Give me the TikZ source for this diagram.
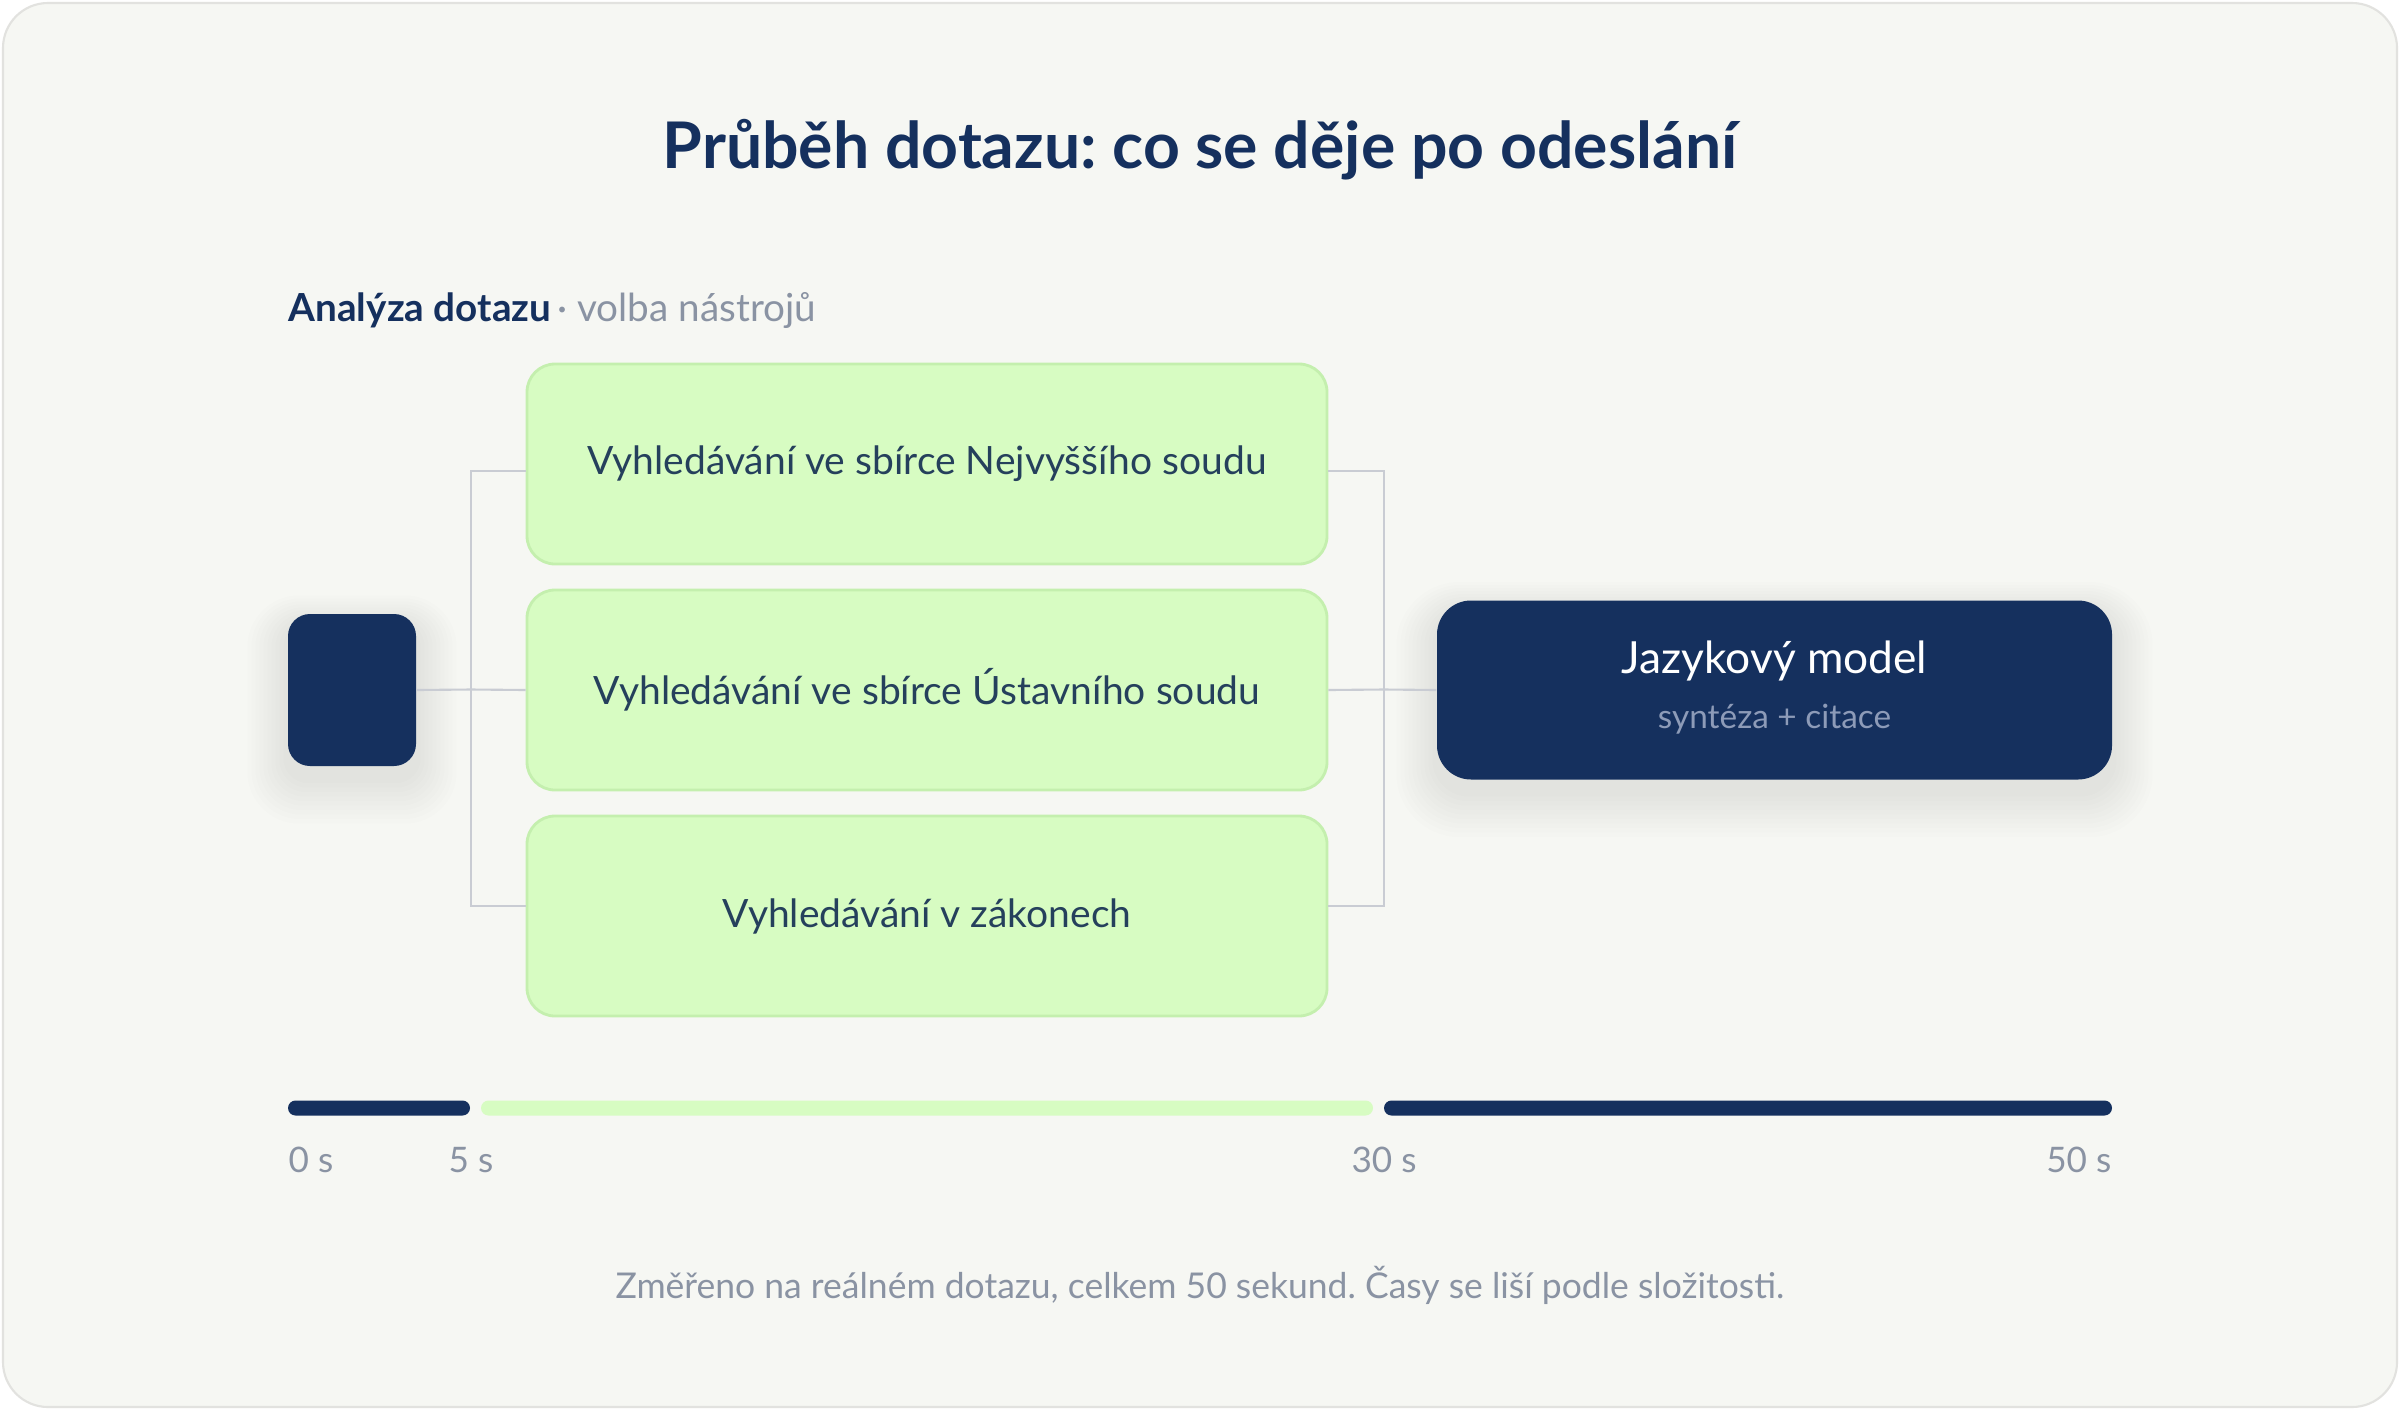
\documentclass[tikz,border=0pt]{standalone}
\usepackage{fontspec}
\setmainfont{Lato}
\usepackage{tikz}
\usetikzlibrary{calc}
\usetikzlibrary{positioning}
\definecolor{navy}{HTML}{15305E}
\definecolor{pagebg}{HTML}{F6F7F3}
\definecolor{framec}{HTML}{E2E2DF}
\definecolor{toolfill}{HTML}{D7FCC2}
\definecolor{toolline}{HTML}{C4EFAE}
\definecolor{tooltext}{HTML}{25405C}
\definecolor{graytext}{HTML}{8A93A3}
\definecolor{subtext}{HTML}{8D9BB8}
\definecolor{wirec}{HTML}{C9CCD3}
\pgfdeclarelayer{back}
\pgfdeclarelayer{shade}
\pgfsetlayers{back,shade,main}
\frenchspacing
\tikzstyle{tool} = [draw=toolline,line width=0.8pt,fill=toolfill,rounded corners=0.28cm,minimum width=8cm,minimum height=2cm,text=tooltext,font=\fontsize{11.1}{13}\selectfont]
\tikzstyle{navybox} = [fill=navy]
\tikzstyle{wire} = [draw=wirec,line width=0.6pt]
\tikzstyle{tick} = [text=graytext,font=\fontsize{10}{12}\selectfont,inner sep=0pt]
\newcommand{\softshade}[2]{%
	\foreach \i in {1,...,10}
		\fill[black,opacity=0.008,rounded corners=#2cm+\i*0.03cm]
			($(#1.south west)+(-\i*0.04,-\i*0.045-0.12)$) rectangle ($(#1.north east)+(\i*0.04,\i*0.03-0.12)$);}

\begin{document}
\begin{tikzpicture}[node distance=2.26cm,on grid]
	\useasboundingbox (0,0) rectangle (24,14.1);
	\begin{pgfonlayer}{back}
	\fill[white] (0,0) rectangle (24,14.1);
	\draw[framec,fill=pagebg,line width=0.6pt,rounded corners=0.45cm] (0.03,0.03) rectangle (23.97,14.07);
	\end{pgfonlayer}
	% title and heading
	\node[anchor=base,text=navy,font=\fontsize{18.3}{20}\selectfont\bfseries] at (12,12.42)(title){Průběh dotazu: co se děje po odeslání};
	\node[anchor=base west,inner sep=0pt,font=\fontsize{11}{13}\selectfont] at (2.88,10.89)(head){\textcolor{navy}{\bfseries Analýza dotazu}\,\textcolor{graytext}{· volba nástrojů}};
	% tools
	\node[tool] at (9.27,9.46)(t_1){Vyhledávání ve sbírce Nejvyššího soudu};
	\node[tool][below=of t_1](t_2){Vyhledávání ve sbírce Ústavního soudu};
	\node[tool][below=of t_2](t_3){Vyhledávání v zákonech};
	\node[navybox,rounded corners=0.22cm,minimum width=1.28cm,minimum height=1.52cm][left=5.75cm of t_2](q){};
	\node[navybox,rounded corners=0.34cm,minimum width=6.75cm,minimum height=1.79cm][right=8.475cm of t_2](m){};
	\node[text=white,font=\fontsize{12.6}{14}\selectfont] at ($(m.center)+(0,0.29)$)(m_1){Jazykový model};
	\node[text=subtext,font=\fontsize{9.5}{11}\selectfont] at ($(m.center)+(0,-0.29)$)(m_2){syntéza + citace};
	\begin{pgfonlayer}{shade}
	\softshade{q}{0.22}
	\softshade{m}{0.34}
	\end{pgfonlayer}
	% connectors
	\coordinate (j_l) at (4.71,7.205);
	\coordinate (j_r) at (13.84,7.205);
	\draw[wire] (q.east) -- (j_l) -- (t_2.west);
	\draw[wire] ([yshift=-0.07cm]t_1.west) -| (j_l) |- ([yshift=0.1cm]t_3.west);
	\draw[wire] ([yshift=-0.07cm]t_1.east) -| (j_r) |- ([yshift=0.1cm]t_3.east);
	\draw[wire] (t_2.east) -- (j_r) -- (m.west);
	% timeline
	\fill[navy,rounded corners=0.075cm] (2.88,2.945) rectangle (4.70,3.095);
	\fill[toolfill,rounded corners=0.075cm] (4.81,2.945) rectangle (13.73,3.095);
	\fill[navy,rounded corners=0.075cm] (13.84,2.945) rectangle (21.12,3.095);
	\node[tick,anchor=base west] at (2.88,2.38)(l_0){0 s};
	\node[tick,anchor=base] at (4.71,2.38)(l_5){5 s};
	\node[tick,anchor=base] at (13.84,2.38)(l_30){30 s};
	\node[tick,anchor=base east] at (21.12,2.38)(l_50){50 s};
	\node[anchor=base,text=graytext,font=\fontsize{10.1}{12}\selectfont] at (12,1.12)(foot){Změřeno na reálném dotazu, celkem 50 sekund. Časy se liší podle složitosti.};
\end{tikzpicture}
\end{document}
